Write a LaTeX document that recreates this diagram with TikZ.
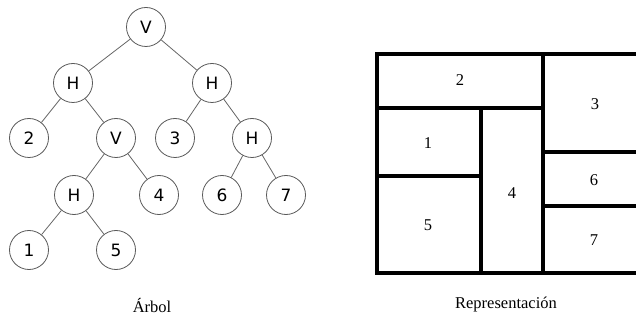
\documentclass[tikz,border=0pt]{standalone}
\usepackage{fontspec}
\setmainfont{Liberation Serif}
\newfontfamily\treefont{DejaVu Sans}
\usetikzlibrary{calc}

\tikzset{
  hoja/.style={circle, draw=black!65, line width=0.8pt, minimum size=39pt, inner sep=0pt, font=\treefont\fontsize{17}{17}\selectfont},
  rama/.style={draw=black!60, line width=0.8pt},
  muro/.style={line width=3.6pt, line cap=round},
  etiq/.style={font=\fontsize{16.5}{16.5}\selectfont}
}

\begin{document}
\begin{tikzpicture}[x=1pt, y=-1pt]
		%%%%% START %%%%%
		\useasboundingbox (0,0) rectangle (636,320);
		
		% arbol
		\node[hoja] (v0) at (146, 27) {V};
		\node[hoja] (h1) at (73, 83) {H};
		\node[hoja] (h2) at (212, 83) {H};
		\node[hoja] (n2) at (29, 138) {2};
		\node[hoja] (v1) at (116, 138) {V};
		\node[hoja] (n3) at (175, 138) {3};
		\node[hoja] (h3) at (252, 138) {H};
		\node[hoja] (h4) at (74, 195) {H};
		\node[hoja] (n4) at (159, 195) {4};
		\node[hoja] (n6) at (222, 195) {6};
		\node[hoja] (n7) at (286, 195) {7};
		\node[hoja] (n1) at (29, 250) {1};
		\node[hoja] (n5) at (116, 250) {5};
		
		\draw[rama] (v0) -- (h1);
		\draw[rama] (v0) -- (h2);
		\draw[rama] (h1) -- (n2);
		\draw[rama] (h1) -- (v1);
		\draw[rama] (h2) -- (n3);
		\draw[rama] (h2) -- (h3);
		\draw[rama] (v1) -- (h4);
		\draw[rama] (v1) -- (n4);
		\draw[rama] (h3) -- (n6);
		\draw[rama] (h3) -- (n7);
		\draw[rama] (h4) -- (n1);
		\draw[rama] (h4) -- (n5);
		
		% representacion
		\draw[muro] (645, 54) -- (377, 54) -- (377, 273) -- (645, 273);
		\draw[muro] (543, 54) -- (543, 273);
		\draw[muro] (377, 108) -- (543, 108);
		\draw[muro] (481, 108) -- (481, 273);
		\draw[muro] (377, 176) -- (481, 176);
		\draw[muro] (543, 152) -- (645, 152);
		\draw[muro] (543, 206) -- (645, 206);
		
		\node[etiq] (r2) at (460, 80) {2};
		\node[etiq] (r3) at (595, 104) {3};
		\node[etiq] (r1) at (428, 143) {1};
		\node[etiq] (r5) at (428, 225) {5};
		\node[etiq] (r4) at (512, 193) {4};
		\node[etiq] (r6) at (594, 180) {6};
		\node[etiq] (r7) at (594, 240) {7};
		
		% pies
		\node[etiq] (arbol) at (152, 305) {Árbol};
		\node[etiq] (repr) at (506, 305) {Representación};
		%%%%% END %%%%%
	\end{tikzpicture}
\end{document}
